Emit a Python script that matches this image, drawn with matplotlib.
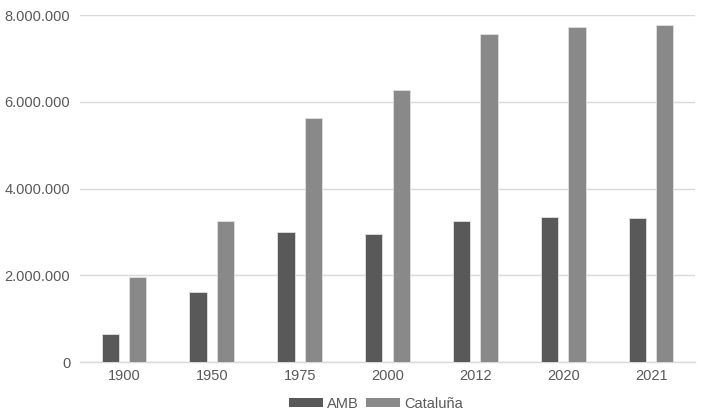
import matplotlib
matplotlib.use("Agg")
import matplotlib.pyplot as plt
import numpy as np
from matplotlib.ticker import FuncFormatter

years = ["1900", "1950", "1975", "2000", "2012", "2020", "2021"]
amb = [640000, 1620000, 3010000, 2960000, 3250000, 3340000, 3330000]
cataluna = [1950000, 3245000, 5640000, 6270000, 7570000, 7730000, 7770000]
series_names = ["AMB", "Cataluña"]
yticks = [0, 2000000, 4000000, 6000000, 8000000]

plt.rcParams['font.family'] = ['Liberation Sans', 'DejaVu Sans']

fig = plt.figure(figsize=(7.02, 4.17), dpi=100)
ax = fig.add_axes([80/702, 55/417, (695-80)/702, (362-15.3)/417])

x = np.arange(len(years))
w = 0.197
off = 0.156
ax.bar(x - off, amb, w, color='#595959', edgecolor='#e0e0e0', linewidth=0.6, label=series_names[0], zorder=3)
ax.bar(x + off, cataluna, w, color='#898989', edgecolor='#e0e0e0', linewidth=0.6, label=series_names[1], zorder=3)

ax.set_xlim(-0.5, len(years) - 0.5)
ax.set_ylim(0, 8000000)
ax.set_yticks(yticks)
ax.yaxis.set_major_formatter(FuncFormatter(lambda v, p: f"{int(v):,}".replace(",", ".")))
ax.set_xticks(x)
ax.set_xticklabels(years)

ax.grid(axis='y', color='#d9d9d9', linewidth=1, zorder=0)
for s in ['top', 'right', 'left']:
    ax.spines[s].set_visible(False)
ax.spines['bottom'].set_color('#d9d9d9')
ax.spines['bottom'].set_linewidth(1)
ax.tick_params(axis='both', length=0, colors='#595959', labelsize=10.5)
ax.tick_params(axis='y', pad=7)
ax.tick_params(axis='x', pad=5)

leg = fig.legend(loc='center', bbox_to_anchor=(376/702, 1 - 404/417), ncol=2, frameon=False,
                 fontsize=10.5, handlelength=2.3, handleheight=0.6, handletextpad=0.3,
                 columnspacing=0.5, labelcolor='#595959', borderpad=0)
for h in leg.legend_handles:
    h.set_edgecolor('none')

fig.savefig("out.png", dpi=100, facecolor='white')
